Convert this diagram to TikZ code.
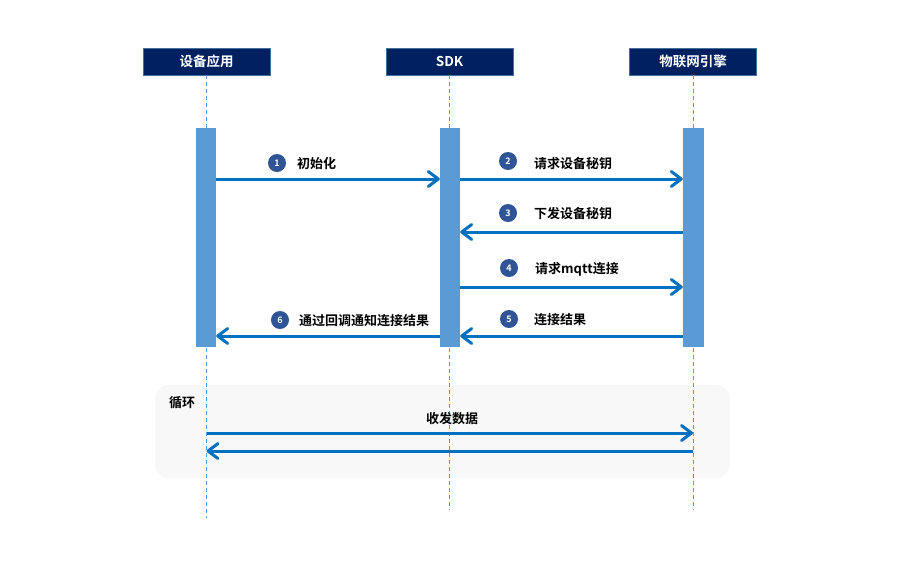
\documentclass[tikz,border=0pt]{standalone}
\usepackage{fontspec}
\setmainfont{Noto Sans CJK SC}
\newfontfamily\cjkb{Noto Sans CJK SC Bold}
\usetikzlibrary{arrows.meta}
\definecolor{navy}{HTML}{002060}
\definecolor{navyedge}{HTML}{41719C}
\definecolor{barblue}{HTML}{5B9BD5}
\definecolor{arrblue}{HTML}{0070C0}
\definecolor{numblue}{HTML}{2F5597}
\definecolor{loopgray}{HTML}{F8F8F8}
\begin{document}
\begin{tikzpicture}[x=1pt,y=-1pt,
  header/.style={draw=navyedge,line width=0.8pt,fill=navy,text=white,minimum width=127pt,minimum height=27pt,inner sep=0pt,font=\cjkb\fontsize{13.5}{15}\selectfont},
  lifeline/.style={draw=barblue,line width=0.8pt,dash pattern=on 4pt off 3pt},
  actbar/.style={fill=barblue,draw=none},
  msg/.style={draw=arrblue,line width=3pt,-{Straight Barb[round,length=10pt,width=15pt]}},
  num/.style={circle,fill=numblue,text=white,minimum size=18pt,inner sep=0pt,font=\cjkb\fontsize{9}{10}\selectfont},
  lbl/.style={anchor=west,inner sep=0pt,font=\cjkb\fontsize{13}{14}\selectfont},
  loopbox/.style={fill=loopgray,draw=none,rounded corners=14pt}
]
\useasboundingbox (0,0) rectangle (908,571);
\fill[white] (0,0) rectangle (908,571);
% loop frame
\node[loopbox,minimum width=575pt,minimum height=93pt,inner sep=0pt] (loop) at (442.5,431.5) {};
\node[anchor=west,inner sep=0pt,font=\cjkb\fontsize{13}{14}\selectfont] (looptitle) at (169,403) {循环};
% headers
\node[header] (h1) at (206.5,61.5) {设备应用};
\node[header] (h2) at (449.5,61.5) {SDK};
\node[header] (h3) at (693,61.5) {物联网引擎};
% lifeline ends
\coordinate (e1) at (206.5,518);
\coordinate (e2) at (449.5,510);
\coordinate (e3) at (693,510);
\draw[lifeline] (h1.south) -- (e1);
\draw[lifeline] (h2.south) -- (e2);
\draw[lifeline] (h3.south) -- (e3);
% activation bars
\node[actbar,minimum width=20pt,minimum height=219pt,inner sep=0pt] (a1) at (206,237.5) {};
\node[actbar,minimum width=20pt,minimum height=219pt,inner sep=0pt] (a2) at (450,237.5) {};
\node[actbar,minimum width=21pt,minimum height=219pt,inner sep=0pt] (a3) at (693.5,237.5) {};
% messages
\draw[msg] (a1.east |- 0,179) -- (a2.west |- 0,179);
\draw[msg] (a2.east |- 0,179) -- (a3.west |- 0,179);
\draw[msg] (a3.west |- 0,232) -- (a2.east |- 0,232);
\draw[msg] (a2.east |- 0,287) -- (a3.west |- 0,287);
\draw[msg] (a3.west |- 0,336) -- (a2.east |- 0,336);
\draw[msg] (a2.west |- 0,336) -- (a1.east |- 0,336);
% numbers and labels
\node[num] (n1) at (277,163) {1};
\node[lbl] (l1) at (297,164) {初始化};
\node[num] (n2) at (508,161) {2};
\node[lbl] (l2) at (534,164) {请求设备秘钥};
\node[num] (n3) at (508,213) {3};
\node[lbl] (l3) at (534,214) {下发设备秘钥};
\node[num] (n4) at (509,268) {4};
\node[lbl] (l4) at (535,269) {请求mqtt连接};
\node[num] (n5) at (509,319) {5};
\node[lbl] (l5) at (534,320) {连接结果};
\node[num] (n6) at (280,320) {6};
\node[lbl] (l6) at (299,321) {通过回调通知连接结果};
% loop messages
\coordinate (lp1) at (206.5,433);
\coordinate (lp2) at (693,433);
\coordinate (lp3) at (693,451);
\coordinate (lp4) at (206.5,451);
\draw[msg] (lp1) -- (lp2);
\draw[msg] (lp3) -- (lp4);
\node[inner sep=0pt,font=\cjkb\fontsize{13}{14}\selectfont] (ld) at (452,419) {收发数据};
\end{tikzpicture}
\end{document}
